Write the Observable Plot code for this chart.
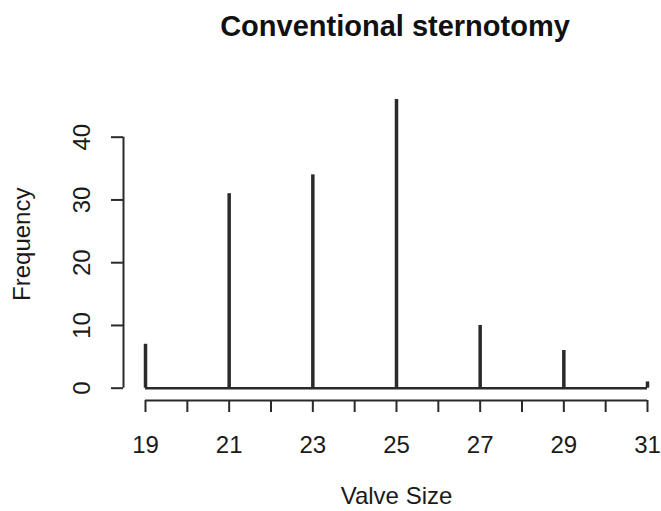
<!DOCTYPE html>
<html>
<head>
<meta charset="utf-8">
<script src="https://cdn.jsdelivr.net/npm/d3@7"></script>
<script src="https://cdn.jsdelivr.net/npm/@observablehq/plot@0.6"></script>
<style>
  html, body { margin: 0; padding: 0; background: #fff; }
  #wrap { position: relative; width: 661px; height: 511px; font-family: "Liberation Sans", Arial, sans-serif; }
  #title { position: absolute; top: 12px; left: 0; width: 661px; padding-left: 129px; box-sizing: border-box;
           text-align: center; font-size: 29px; line-height: 29px; font-weight: bold; color: #111; }
  svg { display: block; }
</style>
</head>
<body>
<div id="wrap">
  <div id="title">Conventional sternotomy</div>
  <div id="chart"></div>
</div>
<script>
const title = "Conventional sternotomy";
const xLabelText = "Valve Size";
const yLabelText = "Frequency";
const sizes = [19, 21, 23, 25, 27, 29, 31];
const freqs = [7, 31, 34, 46, 10, 6, 1];
const xTicks = [19, 20, 21, 22, 23, 24, 25, 26, 27, 28, 29, 30, 31];
const xLabels = [19, 21, 23, 25, 27, 29, 31];
const yTicks = [0, 10, 20, 30, 40];

const data = sizes.map((s, i) => ({size: s, n: freqs[i]}));
const ink = "#2a2a2a";

const chart = Plot.plot({
  width: 661,
  height: 511,
  marginLeft: 123,
  marginRight: 14,
  marginTop: 87.5,
  marginBottom: 111,
  style: {fontFamily: "'Liberation Sans', Arial, sans-serif", fontSize: "24px", color: "#1a1a1a", background: "#fff"},
  x: {domain: [19, 31], range: [145, 647], label: null},
  y: {domain: [0, 40], range: [387.7, 136.7], label: null},
  marks: [
    Plot.ruleY([0], {x1: d3.min(sizes), x2: d3.max(sizes), stroke: ink, strokeWidth: 2.5}),
    Plot.ruleX(data, {x: "size", y1: 0, y2: "n", stroke: ink, strokeWidth: 3.5}),
    Plot.ruleX([d3.min(sizes)], {y1: d3.min(yTicks), y2: d3.max(yTicks), dx: -22, stroke: ink, strokeWidth: 2}),
    Plot.axisY(yTicks, {anchor: "left", tickSize: 12, tickFormat: () => "", label: null, stroke: ink, strokeWidth: 2}),
    Plot.text(yTicks, {y: d => d, text: d => String(d), frameAnchor: "left", rotate: -90, dx: -41, lineAnchor: "middle", textAnchor: "middle", fontSize: 24, fill: "#1a1a1a"}),
    Plot.ruleY([0], {x1: d3.min(xTicks), x2: d3.max(xTicks), dy: 12.3, stroke: ink, strokeWidth: 2}),
    Plot.axisX(xTicks, {anchor: "bottom", tickSize: 12, tickFormat: () => "", label: null, stroke: ink, strokeWidth: 2}),
    Plot.axisX(xLabels, {anchor: "bottom", tickSize: 0, tickPadding: 35, tickFormat: d => String(d), label: null, fontSize: 24, fill: "#1a1a1a"}),
    Plot.text([xLabelText], {frameAnchor: "bottom", lineAnchor: "top", dx: 11, dy: 86, fontSize: 24, fill: "#1a1a1a"}),
    Plot.text([yLabelText], {frameAnchor: "left", rotate: -90, lineAnchor: "middle", textAnchor: "middle", dx: -101.5, fontSize: 24, fill: "#1a1a1a"})
  ]
});
document.getElementById("chart").appendChild(chart);
document.getElementById("title").textContent = title;
</script>
</body>
</html>
